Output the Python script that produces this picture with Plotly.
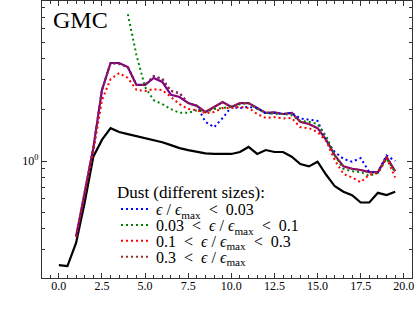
import plotly.graph_objects as go

t = [0.0, 0.5, 1.0, 1.5, 2.0, 2.5, 3.0, 3.5, 4.0, 4.5, 5.0, 5.5, 6.0, 6.5, 7.0, 7.5,
     8.0, 8.5, 9.0, 9.5, 10.0, 10.5, 11.0, 11.5, 12.0, 12.5, 13.0, 13.5, 14.0, 14.5,
     15.0, 15.5, 16.0, 16.5, 17.0, 17.5, 18.0, 18.5, 19.0, 19.5]

gas = [0.244, 0.241, 0.33, 0.57, 1.06, 1.33, 1.56, 1.48, 1.44, 1.40, 1.36, 1.32, 1.29, 1.24,
       1.19, 1.16, 1.13, 1.11, 1.10, 1.10, 1.10, 1.13, 1.21, 1.10, 1.16, 1.13, 1.13, 1.06,
       0.96, 0.93, 0.99, 0.83, 0.71, 0.66, 0.63, 0.57, 0.57, 0.65, 0.63, 0.66]

dust_total = [None, None, 0.36, 0.65, 1.19, 2.61, 3.77, 3.77, 3.57, 2.80, 2.80, 3.08, 2.92,
              2.45, 2.38, 2.19, 2.11, 1.94, 2.08, 2.22, 2.08, 2.19, 2.19, 2.05, 1.92, 1.93,
              1.89, 1.92, 1.70, 1.65, 1.56, 1.33, 1.08, 0.93, 0.90, 0.885, 0.86, 0.86, 1.06, 0.87]

dust_lt003 = [None, None, 0.36, 0.65, 1.19, 2.61, 3.77, 3.72, 3.57, 2.80, 2.80, 3.16, 3.04,
              2.58, 2.51, 2.19, 2.11, 1.70, 1.58, 1.79, 2.08, 2.05, 2.08, 2.05, 1.90, 1.92,
              1.89, 1.92, 1.78, 1.75, 1.72, 1.33, 1.13, 1.03, 0.99, 1.04, 0.86, 0.86, 1.08, 1.00]

dust_003_01 = [None, None, None, None, None, None, None, None, 7.3, 4.2, 2.72, 2.28, 2.16,
               2.02, 1.92, 1.92, 1.99, 1.94, 2.02, 2.05, 2.08, 2.16, 2.19, 2.02, 1.92, 1.89,
               1.89, 1.86, 1.72, 1.70, 1.65, 1.40, 1.08, 0.90, 0.87, 0.86, 0.82, 0.85, 1.03, 0.86]

dust_01_03 = [None, None, 0.36, 0.63, 1.13, 2.28, 3.03, 3.29, 3.08, 2.62, 2.58, 2.65, 2.61,
              2.38, 2.16, 2.02, 1.99, 1.91, 1.94, 2.05, 2.05, 2.08, 2.05, 1.89, 1.79, 1.81,
              1.78, 1.79, 1.58, 1.56, 1.48, 1.31, 1.01, 0.84, 0.80, 0.75, 0.83, 0.85, 1.04, 0.80]

dust_gt03 = [None, None, 0.36, 0.65, 1.19, 2.61, 3.77, 3.72, 3.57, 2.80, 2.80, 3.16, 3.04,
             2.58, 2.51, 2.19, 2.11, 1.94, 2.08, 2.22, 2.08, 2.19, 2.19, 2.05, 1.92, 1.93,
             1.89, 1.92, 1.70, 1.65, 1.56, 1.33, 1.08, 0.93, 0.90, 0.885, 0.86, 0.86, 1.06, 0.87]

legend_title = "Dust (different sizes):"
labels = ["<i>ϵ</i> / <i>ϵ</i><sub>max</sub>  <  0.03",
          "0.03  <  <i>ϵ</i> / <i>ϵ</i><sub>max</sub>  <  0.1",
          "0.1  <  <i>ϵ</i> / <i>ϵ</i><sub>max</sub>  <  0.3",
          "0.3  <  <i>ϵ</i> / <i>ϵ</i><sub>max</sub>"]

xticks = [0.0, 2.5, 5.0, 7.5, 10.0, 12.5, 15.0, 17.5, 20.0]
xticktext = ["0.0", "2.5", "5.0", "7.5", "10.0", "12.5", "15.0", "17.5", "20.0"]

FONT = "Liberation Serif"
DOT = "2px,3px"
LEG_FONT = 16

fig = go.Figure()
fig.add_trace(go.Scatter(x=t, y=gas, mode="lines", line=dict(color="black", width=2.2),
                         showlegend=False))
fig.add_trace(go.Scatter(x=t, y=dust_total, mode="lines", line=dict(color="purple", width=2.2),
                         showlegend=False))
legend_ids = ["legend", "legend2", "legend3", "legend4"]
for ys, col, lab, lid in [(dust_lt003, "blue", labels[0], legend_ids[0]),
                          (dust_003_01, "green", labels[1], legend_ids[1]),
                          (dust_01_03, "red", labels[2], legend_ids[2]),
                          (dust_gt03, "brown", labels[3], legend_ids[3])]:
    fig.add_trace(go.Scatter(x=t, y=ys, mode="lines", name=lab, legend=lid,
                             line=dict(color=col, width=2, dash=DOT)))

leg_y = [0.249, 0.191, 0.134, 0.076]
leg_common = dict(x=0.2, xanchor="left", yanchor="middle", bgcolor="rgba(0,0,0,0)",
                  font=dict(family=FONT, size=LEG_FONT), itemwidth=30)

fig.update_layout(
    width=416, height=313,
    margin=dict(l=42, r=4, t=1, b=35),
    paper_bgcolor="white", plot_bgcolor="white",
    font=dict(family=FONT, color="black", size=12),
    showlegend=True,
    legend=dict(y=leg_y[0], **leg_common),
    legend2=dict(y=leg_y[1], **leg_common),
    legend3=dict(y=leg_y[2], **leg_common),
    legend4=dict(y=leg_y[3], **leg_common),
    xaxis=dict(
        range=[-0.975, 20.475], tickvals=xticks, ticktext=xticktext,
        ticks="inside", ticklen=5, tickwidth=1, tickcolor="#333",
        showline=True, linecolor="#333", linewidth=1.2, mirror="allticks",
        showgrid=False, zeroline=False, ticklabelstandoff=-4,
        tickfont=dict(family=FONT, size=12),
        minor=dict(dtick=0.5, ticks="inside", ticklen=3, tickcolor="#333", showgrid=False),
    ),
    yaxis=dict(
        type="log", range=[-0.688, 0.941],
        tickvals=[1], ticktext=["10<sup>0</sup>"],
        ticks="inside", ticklen=5, tickwidth=1, tickcolor="#333",
        showline=True, linecolor="#333", linewidth=1.2, mirror="allticks",
        showgrid=False, zeroline=False,
        tickfont=dict(family=FONT, size=12),
        minor=dict(tickvals=[0.2, 0.3, 0.4, 0.5, 0.6, 0.7, 0.8, 0.9, 2, 3, 4, 5, 6, 7, 8],
                   ticks="inside", ticklen=3, tickcolor="#333", showgrid=False),
    ),
    annotations=[
        dict(text="GMC", xref="paper", yref="paper", x=0.025, y=0.985,
             xanchor="left", yanchor="top", showarrow=False,
             font=dict(family=FONT, size=24, color="black")),
        dict(text=legend_title, xref="paper", yref="paper", x=0.197, y=0.307,
             xanchor="left", yanchor="middle", showarrow=False,
             font=dict(family=FONT, size=17, color="black")),
    ],
)

fig.write_html("out.html", config={"displayModeBar": False},
               post_script="document.body.style.margin='0';document.body.style.padding='0';")
